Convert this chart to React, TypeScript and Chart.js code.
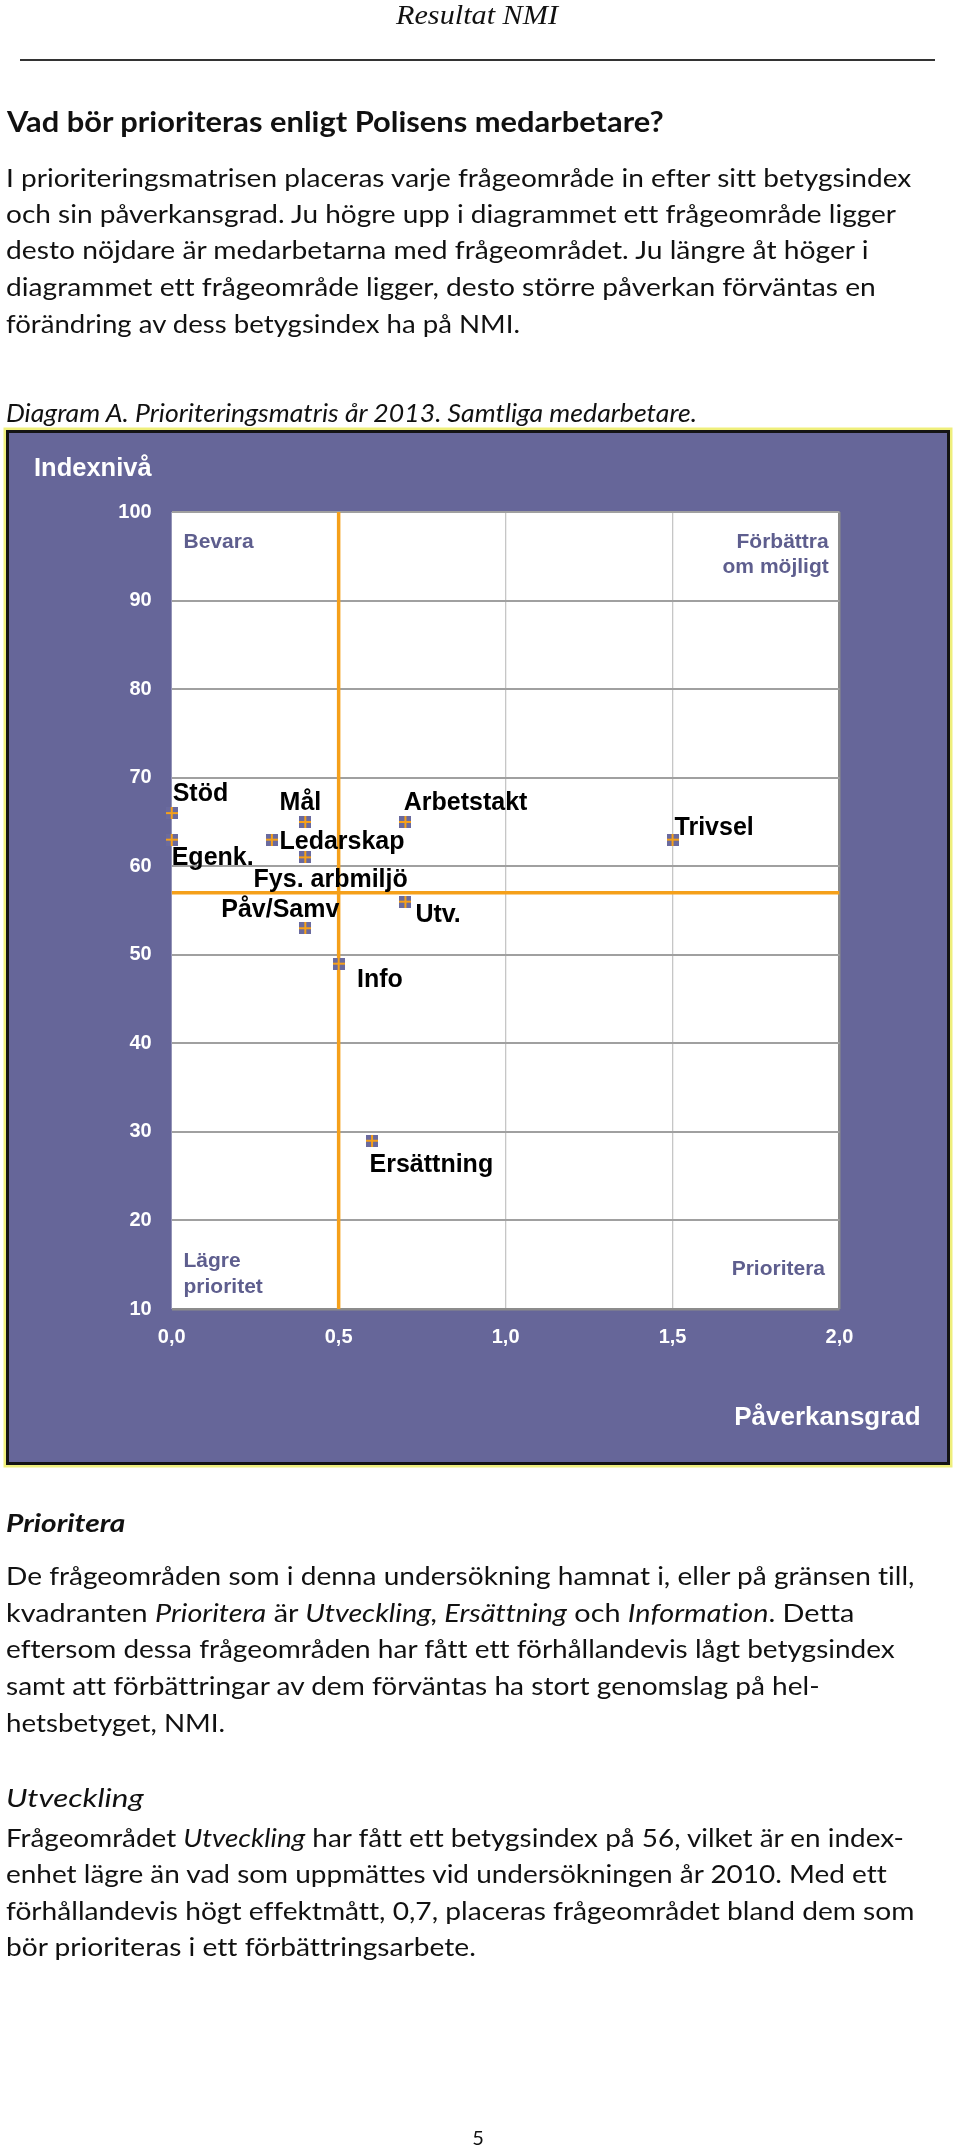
import React, { useEffect, useRef } from 'react';
import { Chart, registerables } from 'chart.js';

Chart.register(...registerables);

// ---------- chart data ----------
const areaLabels = ['Stöd', 'Egenk.', 'Mål', 'Ledarskap', 'Fys. arbmiljö', 'Arbetstakt', 'Trivsel', 'Utv.', 'Påv/Samv', 'Info', 'Ersättning'];
const impactValues = [0, 0, 0.4, 0.3, 0.4, 0.7, 1.5, 0.7, 0.4, 0.5, 0.6]; // Påverkansgrad
const indexValues = [66, 63, 65, 63, 61, 65, 63, 56, 53, 49, 29]; // Indexnivå
const impactThreshold = 0.5;
const indexThreshold = 57;
const xMin = 0;
const xMax = 2;
const xStep = 0.5;
const yMin = 10;
const yMax = 100;
const yStep = 10;
const xTickLabels = ['0,0', '0,5', '1,0', '1,5', '2,0'];
const yTickLabels = ['10', '20', '30', '40', '50', '60', '70', '80', '90', '100'];
const yAxisTitle = 'Indexnivå';
const xAxisTitle = 'Påverkansgrad';
const quadrantTopLeft = ['Bevara'];
const quadrantTopRight = ['Förbättra', 'om möjligt'];
const quadrantBottomLeft = ['Lägre', 'prioritet'];
const quadrantBottomRight = ['Prioritera'];

// ---------- styling ----------
const PANEL = '#666699';
const ORANGE = '#f5a01a';
const FONT = '"Liberation Sans", Arial, Helvetica, sans-serif';
// label placement relative to its point (dx to text start, dy to baseline)
const labelOffsets: Record<string, [number, number]> = {
  'Stöd': [1, -12.3],
  'Egenk.': [0, 25.7],
  'Mål': [-25.7, -11.6],
  'Ledarskap': [7.6, 9],
  'Fys. arbmiljö': [-51.7, 29.4],
  'Arbetstakt': [-1.7, -11.6],
  'Trivsel': [2, -5],
  'Utv.': [10, 20],
  'Påv/Samv': [-84, -11.6],
  'Info': [18.3, 23],
  'Ersättning': [-2.5, 31.7],
};

function makeMarker(): HTMLCanvasElement {
  const c = document.createElement('canvas');
  c.width = 12;
  c.height = 12;
  const g = c.getContext('2d')!;
  g.fillStyle = '#6a6a9e';
  g.fillRect(0, 0, 12, 12);
  g.fillStyle = ORANGE;
  g.fillRect(5, 0, 2, 12);
  g.fillRect(0, 5, 12, 2);
  return c;
}

const plotBackground = {
  id: 'plotBackground',
  beforeDraw(chart: any) {
    const { ctx, chartArea: a } = chart;
    ctx.save();
    ctx.fillStyle = '#ffffff';
    ctx.fillRect(a.left, a.top, a.right - a.left, a.bottom - a.top);
    ctx.restore();
  },
};

const quadrantText = {
  id: 'quadrantText',
  beforeDatasetsDraw(chart: any) {
    const { ctx, chartArea: a } = chart;
    ctx.save();
    ctx.font = `bold 21px ${FONT}`;
    ctx.fillStyle = '#5e5e8e';
    ctx.textBaseline = 'alphabetic';
    ctx.textAlign = 'left';
    quadrantTopLeft.forEach((t, i) => ctx.fillText(t, a.left + 11.8, a.top + 36.3 + i * 25));
    quadrantBottomLeft.forEach((t, i) => ctx.fillText(t, a.left + 11.8, a.bottom - 42.3 + i * 25.8));
    ctx.textAlign = 'right';
    quadrantTopRight.forEach((t, i) => ctx.fillText(t, a.right - 10.8, a.top + 36.3 + i * 25));
    quadrantBottomRight.forEach((t, i) => ctx.fillText(t, a.right - 14.5, a.bottom - 34 + i * 25));
    ctx.restore();
  },
};

const pointLabels = {
  id: 'pointLabels',
  afterDatasetsDraw(chart: any) {
    const { ctx } = chart;
    const meta = chart.getDatasetMeta(0);
    ctx.save();
    ctx.font = `bold 25px ${FONT}`;
    ctx.fillStyle = '#000000';
    ctx.textAlign = 'left';
    ctx.textBaseline = 'alphabetic';
    meta.data.forEach((el: any, i: number) => {
      const name = areaLabels[i];
      const [dx, dy] = labelOffsets[name] || [6, -6];
      ctx.fillText(name, el.x + dx, el.y + dy);
    });
    ctx.restore();
  },
};

// ---------- page text ----------
type Run = { t: string; i?: boolean };
type Line = { y: number; x: number; right?: number; size: number; family: string; weight?: string; italic?: boolean; anchor?: string; runs: Run[] };
const BODY = 'Lato, "Open Sans", sans-serif';
const r = (t: string, i?: boolean): Run => ({ t, i });
const pageLines: Line[] = [
  { x: 396, y: 24, right: 558, size: 28, family: '"Liberation Serif", "Times New Roman", serif', italic: true, runs: [r('Resultat NMI')] },
  { x: 7, y: 132, right: 663.6, size: 28, family: BODY, weight: 'bold', runs: [r('Vad bör prioriteras enligt Polisens medarbetare?')] },
  { x: 6, y: 187.3, right: 911.3, size: 25, family: BODY, runs: [r('I prioriteringsmatrisen placeras varje frågeområde in efter sitt betygsindex')] },
  { x: 6, y: 222.7, right: 896, size: 25, family: BODY, runs: [r('och sin påverkansgrad. Ju högre upp i diagrammet ett frågeområde ligger')] },
  { x: 6, y: 259.3, right: 868.5, size: 25, family: BODY, runs: [r('desto nöjdare är medarbetarna med frågeområdet. Ju längre åt höger i')] },
  { x: 6, y: 296, right: 875.8, size: 25, family: BODY, runs: [r('diagrammet ett frågeområde ligger, desto större påverkan förväntas en')] },
  { x: 6, y: 332.7, right: 519.9, size: 25, family: BODY, runs: [r('förändring av dess betygsindex ha på NMI.')] },
  { x: 6, y: 421.7, right: 697, size: 25, family: BODY, italic: true, runs: [r('Diagram A. Prioriteringsmatris år 2013. Samtliga medarbetare.')] },
  { x: 6, y: 1531.7, right: 125.4, size: 25, family: BODY, weight: 'bold', italic: true, runs: [r('Prioritera')] },
  { x: 6, y: 1585, right: 914.4, size: 25, family: BODY, runs: [r('De frågeområden som i denna undersökning hamnat i, eller på gränsen till,')] },
  { x: 6, y: 1622.3, right: 854.4, size: 25, family: BODY, runs: [r('kvadranten '), r('Prioritera', true), r(' är '), r('Utveckling, Ersättning', true), r(' och '), r('Information', true), r('. Detta')] },
  { x: 6, y: 1658.3, right: 894.8, size: 25, family: BODY, runs: [r('eftersom dessa frågeområden har fått ett förhållandevis lågt betygsindex')] },
  { x: 6, y: 1695, right: 819.6, size: 25, family: BODY, runs: [r('samt att förbättringar av dem förväntas ha stort genomslag på hel-')] },
  { x: 6, y: 1732.3, right: 225.1, size: 25, family: BODY, runs: [r('hetsbetyget, NMI.')] },
  { x: 6, y: 1806.5, right: 143.7, size: 25, family: BODY, italic: true, runs: [r('Utveckling')] },
  { x: 6, y: 1846.7, right: 904, size: 25, family: BODY, runs: [r('Frågeområdet '), r('Utveckling', true), r(' har fått ett betygsindex på 56, vilket är en index-')] },
  { x: 6, y: 1883.3, right: 886.8, size: 25, family: BODY, runs: [r('enhet lägre än vad som uppmättes vid undersökningen år 2010. Med ett')] },
  { x: 6, y: 1920, right: 914.4, size: 25, family: BODY, runs: [r('förhållandevis högt effektmått, 0,7, placeras frågeområdet bland dem som')] },
  { x: 6, y: 1956, right: 475.8, size: 25, family: BODY, runs: [r('bör prioriteras i ett förbättringsarbete.')] },
  { x: 478, y: 2145, size: 20, family: BODY, anchor: 'middle', runs: [r('5')] },
];

export default function App() {
  const canvasRef = useRef<HTMLCanvasElement>(null);

  useEffect(() => {
    const canvas = canvasRef.current;
    if (!canvas) return;
    const marker = makeMarker();
    const points = impactValues.map((x, i) => ({ x, y: indexValues[i] }));
    const chart = new Chart(canvas, {
      type: 'scatter',
      data: {
        datasets: [
          {
            label: 'Frågeområden',
            data: points,
            pointStyle: marker as any,
            pointRadius: 6,
            clip: false as any,
            order: 0,
          },
          {
            label: 'Gräns påverkansgrad',
            data: [{ x: impactThreshold, y: yMin }, { x: impactThreshold, y: yMax }],
            showLine: true,
            borderColor: ORANGE,
            borderWidth: 3.5,
            pointRadius: 0,
            order: 1,
          },
          {
            label: 'Gräns indexnivå',
            data: [{ x: xMin, y: indexThreshold }, { x: xMax, y: indexThreshold }],
            showLine: true,
            borderColor: ORANGE,
            borderWidth: 3.5,
            pointRadius: 0,
            order: 1,
          },
        ],
      },
      options: {
        responsive: false,
        animation: false,
        events: [],
        layout: { padding: { left: 25, right: 26.3, top: 0, bottom: 0 } },
        font: { family: FONT } as any,
        plugins: {
          legend: { display: false },
          tooltip: { enabled: false },
          title: {
            display: true,
            text: yAxisTitle,
            position: 'top',
            align: 'start',
            color: '#ffffff',
            font: { family: FONT, size: 25.5, weight: 'bold', lineHeight: 1.2 },
            padding: { top: 20.9, bottom: 27.5 },
          },
          subtitle: {
            display: true,
            text: xAxisTitle,
            position: 'bottom',
            align: 'end',
            color: '#ffffff',
            font: { family: FONT, size: 26, weight: 'bold', lineHeight: 1.2 },
            padding: { top: 32.9, bottom: 28.9 },
          },
        },
        scales: {
          x: {
            type: 'linear',
            min: xMin,
            max: xMax,
            border: { display: false },
            grid: {
              drawTicks: false,
              color: (c: any) => (c.index === 0 ? 'rgba(0,0,0,0)' : c.index === xTickLabels.length - 1 ? '#8c8c8c' : '#c6c6c6'),
              lineWidth: (c: any) => (c.index === xTickLabels.length - 1 ? 2.5 : 1.3),
            },
            ticks: {
              stepSize: xStep,
              padding: 16.3,
              color: '#ffffff',
              font: { family: FONT, size: 20, weight: 'bold' },
              callback: (_v: any, i: number) => xTickLabels[i],
            },
            afterFit: (s: any) => { s.height = 60; },
          },
          y: {
            type: 'linear',
            min: yMin,
            max: yMax,
            border: { display: false },
            grid: {
              drawTicks: false,
              color: (c: any) => (c.index === 0 ? '#8c8c8c' : '#a0a0a0'),
              lineWidth: (c: any) => (c.index === 0 ? 2.5 : 2),
            },
            ticks: {
              stepSize: yStep,
              padding: 20,
              color: '#ffffff',
              autoSkip: false,
              font: { family: FONT, size: 20, weight: 'bold' },
              callback: (_v: any, i: number) => yTickLabels[i],
            },
            afterFit: (s: any) => { s.width = 137.7; },
          },
          spacer: {
            type: 'linear',
            position: 'right',
            display: true,
            grid: { display: false },
            border: { display: false },
            ticks: { display: false },
            afterFit: (s: any) => { s.width = 81.2; },
          },
        },
      } as any,
      plugins: [plotBackground, quadrantText, pointLabels],
    });
    return () => chart.destroy();
  }, []);

  return (
    <div style={{ position: 'absolute', left: 0, top: 0, width: 960, height: 2147, overflow: 'hidden', background: '#ffffff' }}>
      <div
        style={{
          position: 'absolute',
          left: 6,
          top: 430,
          width: 944,
          height: 1035,
          boxSizing: 'border-box',
          border: '3px solid #141414',
          boxShadow: '0 0 0 2.5px #efef7c',
          background: PANEL,
        }}
      >
        <canvas ref={canvasRef} width={938} height={1029} style={{ display: 'block', width: 938, height: 1029 }} />
      </div>
      <svg
        width={960}
        height={2147}
        style={{ position: 'absolute', left: 0, top: 0, pointerEvents: 'none', fontVariantLigatures: 'none', fontFeatureSettings: '"liga" 0, "clig" 0, "dlig" 0' }}
      >
        <line x1={20} y1={60} x2={935} y2={60} stroke="#333333" strokeWidth={2} />
        {pageLines.map((ln, k) => (
          <text
            key={k}
            x={ln.x}
            y={ln.y}
            fontFamily={ln.family}
            fontSize={ln.size}
            fontWeight={ln.weight || 'normal'}
            fontStyle={ln.italic ? 'italic' : 'normal'}
            fill="#111111"
            textAnchor={ln.anchor || 'start'}
            style={{ whiteSpace: 'pre', fontVariantLigatures: 'none', fontFeatureSettings: '"liga" 0, "clig" 0, "dlig" 0' }}
            {...(ln.right ? { textLength: ln.right - ln.x, lengthAdjust: 'spacingAndGlyphs' } : {})}
          >
            {ln.runs.map((rn, j) => (
              <tspan key={j} fontStyle={rn.i ? 'italic' : undefined}>{rn.t}</tspan>
            ))}
          </text>
        ))}
      </svg>
    </div>
  );
}
